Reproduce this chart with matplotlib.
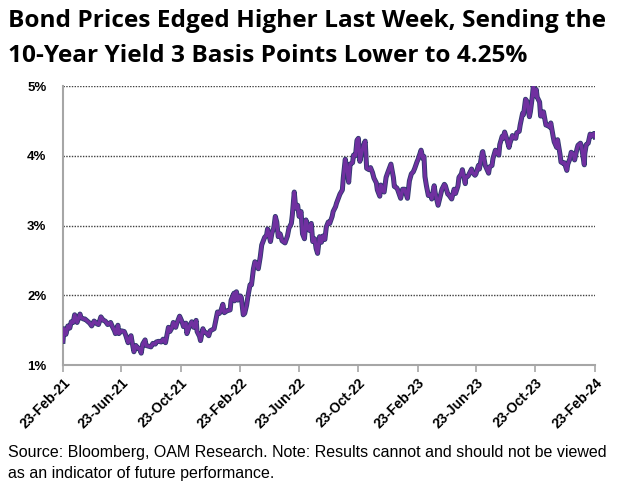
import matplotlib
matplotlib.use("Agg")
import matplotlib.pyplot as plt
import matplotlib.dates as mdates
import matplotlib.patheffects as pe
import pandas as pd

dates = [
    "2021-02-23", "2021-02-25", "2021-03-01", "2021-03-05", "2021-03-09", "2021-03-12", "2021-03-16", "2021-03-19",
    "2021-03-24", "2021-03-30", "2021-04-01", "2021-04-06", "2021-04-09", "2021-04-14", "2021-04-19", "2021-04-23",
    "2021-04-28", "2021-05-04", "2021-05-07", "2021-05-12", "2021-05-17", "2021-05-21", "2021-05-26", "2021-06-01",
    "2021-06-04", "2021-06-09", "2021-06-11", "2021-06-16", "2021-06-18", "2021-06-23", "2021-06-29", "2021-07-02",
    "2021-07-07", "2021-07-09", "2021-07-13", "2021-07-16", "2021-07-19", "2021-07-23", "2021-07-27", "2021-07-30",
    "2021-08-03", "2021-08-06", "2021-08-11", "2021-08-13", "2021-08-18", "2021-08-23", "2021-08-27", "2021-09-01",
    "2021-09-03", "2021-09-08", "2021-09-13", "2021-09-17", "2021-09-22", "2021-09-28", "2021-10-01", "2021-10-05",
    "2021-10-08", "2021-10-13", "2021-10-15", "2021-10-21", "2021-10-26", "2021-10-29", "2021-11-03", "2021-11-05",
    "2021-11-10", "2021-11-15", "2021-11-19", "2021-11-24", "2021-11-26", "2021-12-01", "2021-12-03", "2021-12-08",
    "2021-12-10", "2021-12-15", "2021-12-20", "2021-12-23", "2021-12-31",
    "2022-01-04", "2022-01-07", "2022-01-11", "2022-01-14", "2022-01-18", "2022-01-21", "2022-01-25", "2022-01-28",
    "2022-02-02", "2022-02-04", "2022-02-10", "2022-02-11", "2022-02-15", "2022-02-18", "2022-02-23", "2022-02-25",
    "2022-03-01", "2022-03-04", "2022-03-08", "2022-03-11", "2022-03-15", "2022-03-18", "2022-03-22", "2022-03-25",
    "2022-03-28", "2022-04-01", "2022-04-05", "2022-04-08", "2022-04-14", "2022-04-18", "2022-04-20", "2022-04-22",
    "2022-04-26", "2022-04-29", "2022-05-03", "2022-05-06", "2022-05-09", "2022-05-12", "2022-05-16", "2022-05-20",
    "2022-05-26", "2022-05-31", "2022-06-03", "2022-06-08", "2022-06-10", "2022-06-14", "2022-06-17", "2022-06-21",
    "2022-06-24", "2022-06-28", "2022-07-01", "2022-07-05", "2022-07-08", "2022-07-12", "2022-07-15", "2022-07-19",
    "2022-07-22", "2022-07-26", "2022-07-29", "2022-08-01", "2022-08-05", "2022-08-09", "2022-08-12", "2022-08-16",
    "2022-08-19", "2022-08-23", "2022-08-26", "2022-08-31", "2022-09-02", "2022-09-07", "2022-09-09", "2022-09-14",
    "2022-09-16", "2022-09-21", "2022-09-23", "2022-09-27", "2022-09-30", "2022-10-04", "2022-10-07", "2022-10-12",
    "2022-10-14", "2022-10-18", "2022-10-21", "2022-10-24", "2022-10-27", "2022-10-31", "2022-11-04", "2022-11-07",
    "2022-11-10", "2022-11-15", "2022-11-18", "2022-11-22", "2022-11-25", "2022-11-30", "2022-12-02", "2022-12-07",
    "2022-12-09", "2022-12-13", "2022-12-16", "2022-12-20", "2022-12-23", "2022-12-30",
    "2023-01-04", "2023-01-06", "2023-01-11", "2023-01-13", "2023-01-19", "2023-01-23", "2023-01-27", "2023-02-02",
    "2023-02-06", "2023-02-10", "2023-02-14", "2023-02-17", "2023-02-22", "2023-02-24", "2023-03-02", "2023-03-06",
    "2023-03-08", "2023-03-10", "2023-03-13", "2023-03-17", "2023-03-22", "2023-03-24", "2023-03-29", "2023-03-31",
    "2023-04-06", "2023-04-11", "2023-04-14", "2023-04-19", "2023-04-21", "2023-04-26", "2023-04-28", "2023-05-04",
    "2023-05-09", "2023-05-12", "2023-05-17", "2023-05-19", "2023-05-24", "2023-05-26", "2023-06-01", "2023-06-02",
    "2023-06-07", "2023-06-09", "2023-06-14", "2023-06-16", "2023-06-21", "2023-06-23", "2023-06-28", "2023-06-30",
    "2023-07-06", "2023-07-07", "2023-07-12", "2023-07-14", "2023-07-19", "2023-07-21", "2023-07-26", "2023-07-28",
    "2023-08-02", "2023-08-04", "2023-08-09", "2023-08-11", "2023-08-16", "2023-08-18", "2023-08-21", "2023-08-25",
    "2023-08-30", "2023-09-01", "2023-09-06", "2023-09-08", "2023-09-13", "2023-09-15", "2023-09-20", "2023-09-22",
    "2023-09-27", "2023-09-29", "2023-10-03", "2023-10-06", "2023-10-11", "2023-10-13", "2023-10-17", "2023-10-19",
    "2023-10-23", "2023-10-25", "2023-10-27", "2023-11-01", "2023-11-03", "2023-11-07", "2023-11-09", "2023-11-14",
    "2023-11-17", "2023-11-22", "2023-11-24", "2023-11-29", "2023-12-01", "2023-12-06", "2023-12-08", "2023-12-13",
    "2023-12-15", "2023-12-20", "2023-12-22", "2023-12-27", "2023-12-29",
    "2024-01-02", "2024-01-05", "2024-01-10", "2024-01-12", "2024-01-17", "2024-01-19", "2024-01-24", "2024-01-26",
    "2024-01-31", "2024-02-01", "2024-02-02", "2024-02-05", "2024-02-09", "2024-02-13", "2024-02-16", "2024-02-21",
    "2024-02-23",
]

yields = [
    1.34, 1.52, 1.44, 1.56, 1.53, 1.62, 1.61, 1.72,
    1.61, 1.73, 1.68, 1.66, 1.66, 1.63, 1.60, 1.56,
    1.63, 1.59, 1.58, 1.69, 1.64, 1.63, 1.58, 1.61,
    1.56, 1.49, 1.45, 1.57, 1.45, 1.49, 1.48, 1.43,
    1.32, 1.36, 1.42, 1.30, 1.19, 1.28, 1.24, 1.24,
    1.17, 1.30, 1.36, 1.28, 1.27, 1.26, 1.31, 1.30,
    1.33, 1.34, 1.33, 1.37, 1.32, 1.54, 1.48, 1.53,
    1.61, 1.54, 1.59, 1.70, 1.62, 1.55, 1.60, 1.45,
    1.55, 1.62, 1.54, 1.64, 1.48, 1.41, 1.35, 1.52,
    1.48, 1.46, 1.42, 1.49, 1.52,
    1.66, 1.76, 1.74, 1.78, 1.87, 1.75, 1.77, 1.78,
    1.79, 1.93, 2.03, 1.92, 2.05, 1.93, 1.99, 1.97,
    1.72, 1.74, 1.86, 2.00, 2.15, 2.15, 2.38, 2.48,
    2.46, 2.38, 2.55, 2.72, 2.83, 2.86, 2.95, 2.90,
    2.77, 2.89, 2.97, 3.13, 3.05, 2.84, 2.88, 2.78,
    2.75, 2.85, 2.96, 3.03, 3.15, 3.48, 3.25, 3.29,
    3.13, 3.20, 2.88, 2.81, 3.08, 2.96, 2.93, 3.03,
    2.77, 2.81, 2.67, 2.60, 2.84, 2.76, 2.85, 2.80,
    2.98, 3.05, 3.03, 3.13, 3.20, 3.27, 3.32, 3.41,
    3.45, 3.51, 3.69, 3.95, 3.83, 3.62, 3.88, 3.90,
    4.01, 4.00, 4.22, 4.25, 3.92, 4.05, 4.16, 4.21,
    3.82, 3.80, 3.83, 3.76, 3.68, 3.61, 3.51, 3.42,
    3.58, 3.50, 3.48, 3.69, 3.75, 3.88,
    3.69, 3.56, 3.54, 3.51, 3.39, 3.52, 3.52, 3.39,
    3.64, 3.74, 3.77, 3.82, 3.92, 3.95, 4.08, 3.96,
    3.99, 3.70, 3.57, 3.43, 3.44, 3.38, 3.57, 3.47,
    3.29, 3.43, 3.52, 3.59, 3.57, 3.45, 3.44, 3.38,
    3.52, 3.46, 3.57, 3.69, 3.74, 3.80, 3.60, 3.69,
    3.71, 3.74, 3.81, 3.76, 3.72, 3.74, 3.86, 3.81,
    4.05, 4.06, 3.86, 3.83, 3.75, 3.84, 3.86, 3.96,
    4.08, 4.05, 4.01, 4.16, 4.28, 4.25, 4.34, 4.25,
    4.12, 4.18, 4.29, 4.26, 4.25, 4.33, 4.35, 4.44,
    4.61, 4.59, 4.81, 4.78, 4.56, 4.63, 4.85, 4.99,
    4.86, 4.95, 4.84, 4.77, 4.57, 4.57, 4.63, 4.44,
    4.44, 4.41, 4.47, 4.27, 4.20, 4.12, 4.23, 4.02,
    3.91, 3.89, 3.90, 3.79, 3.88,
    3.95, 4.05, 4.02, 3.94, 4.10, 4.15, 4.18, 4.14,
    3.91, 3.87, 4.03, 4.16, 4.18, 4.31, 4.28, 4.32,
    4.27,
]

tick_labels = ["23-Feb-21", "23-Jun-21", "23-Oct-21", "23-Feb-22", "23-Jun-22",
               "23-Oct-22", "23-Feb-23", "23-Jun-23", "23-Oct-23", "23-Feb-24"]
y_ticks = [1, 2, 3, 4, 5]

title_lines = ["Bond Prices Edged Higher Last Week, Sending the",
               "10-Year Yield 3 Basis Points Lower to 4.25%"]
source_lines = ["Source: Bloomberg, OAM Research. Note: Results cannot and should not be viewed",
                "as an indicator of future performance."]

x = pd.to_datetime(dates)
tick_dates = pd.to_datetime(tick_labels, format="%d-%b-%y")

fig = plt.figure(figsize=(6.29, 4.94), dpi=100)
ax = fig.add_axes([63 / 629, 1 - 365 / 494, (595 - 63) / 629, (365 - 86) / 494])

ax.plot(x, yields, color="#7030A0", linewidth=2.4, solid_joinstyle="round",
        path_effects=[pe.Stroke(linewidth=3.6, foreground="#2E3A6E"), pe.Normal()], zorder=3)

ax.set_xlim(tick_dates[0], tick_dates[-1])
ax.set_ylim(1, 5)
ax.set_yticks(y_ticks)
ax.set_yticklabels([f"{v}%" for v in y_ticks])
ax.set_xticks(tick_dates)
ax.set_xticklabels(tick_labels, rotation=45, ha="right", rotation_mode="anchor")

for s in ["top", "right"]:
    ax.spines[s].set_visible(False)
for s in ["left", "bottom"]:
    ax.spines[s].set_color("#A6A6A6")
    ax.spines[s].set_linewidth(1.5)

ax.grid(axis="y", color="#404040", linestyle=(0, (1, 1)), linewidth=1.0, zorder=1)
ax.grid(axis="x", visible=False)
ax.tick_params(axis="x", length=5, width=1.2, color="#A6A6A6", pad=3)
ax.tick_params(axis="y", length=0, pad=12)
for lab in ax.get_xticklabels():
    lab.set_fontfamily(["Liberation Sans", "DejaVu Sans"])
    lab.set_fontweight("bold")
    lab.set_fontsize(10)
for lab in ax.get_yticklabels():
    lab.set_fontfamily(["Liberation Sans", "DejaVu Sans"])
    lab.set_fontweight("bold")
    lab.set_fontsize(9.5)

title_font = ["Open Sans", "DejaVu Sans"]
fig.text(8 / 629, 1 - 21 / 494, title_lines[0], fontsize=17.6, fontweight="bold",
         family=title_font, va="center", ha="left")
fig.text(8 / 629, 1 - 56 / 494, title_lines[1], fontsize=17.6, fontweight="bold",
         family=title_font, va="center", ha="left")
fig.text(8 / 629, 1 - 452 / 494, source_lines[0], fontsize=11.5,
         family=["Liberation Sans", "DejaVu Sans"], va="center", ha="left")
fig.text(8 / 629, 1 - 473 / 494, source_lines[1], fontsize=11.5,
         family=["Liberation Sans", "DejaVu Sans"], va="center", ha="left")

fig.savefig("out.png", dpi=100)
